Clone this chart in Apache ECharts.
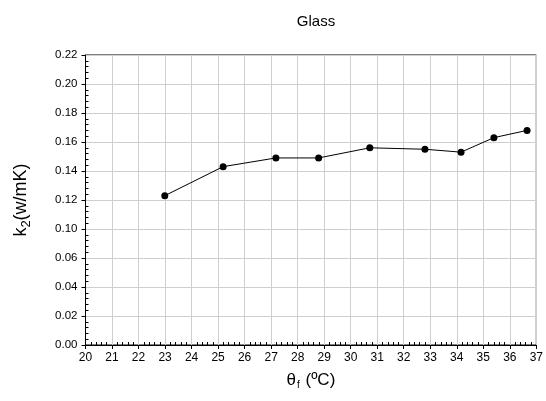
<!DOCTYPE html>
<html>
<head>
<meta charset="utf-8">
<script src="https://cdn.jsdelivr.net/npm/echarts@6/dist/echarts.min.js"></script>
<style>
  html, body { margin: 0; padding: 0; background: #fff; }
  #chart { width: 546px; height: 401px; }
</style>
</head>
<body>
<div id="chart"></div>
<script>
// Film temperature (ºC) and thermal conductivity k2 (W/mK) for glass
const theta = [22.99, 25.19, 27.18, 28.79, 30.72, 32.80, 34.16, 35.40, 36.65];
const k2 = [0.123, 0.143, 0.149, 0.149, 0.156, 0.155, 0.153, 0.163, 0.168];

// Tick labels of the k2 axis (the 0.06 -> 0.10 step is drawn as a single interval)
const kTicks = ['0.00', '0.02', '0.04', '0.06', '0.10', '0.12', '0.14', '0.16', '0.18', '0.20', '0.22'];
const thetaMin = 20, thetaMax = 37;

// Position of a k2 value on the axis, which collapses the span 0.06..0.10 into one step
function kToAxis(v) {
  if (v >= 0.10) return v - 0.02;
  if (v > 0.06) return 0.06 + (v - 0.06) / 2;
  return v;
}

const FONT = 'Liberation Sans, Arial, sans-serif';
const chart = echarts.init(document.getElementById('chart'), null, { renderer: 'canvas' });

const gridBox = { left: 85.5, right: 9.5, top: 55, bottom: 56 };

chart.setOption({
  animation: false,
  backgroundColor: '#fff',
  title: {
    text: 'Glass',
    left: 311, top: 9, textAlign: 'center',
    textStyle: { fontFamily: FONT, fontSize: 15, fontWeight: 'normal', color: '#000' }
  },
  grid: Object.assign({ show: true, borderColor: '#000', borderWidth: 1, backgroundColor: 'transparent' }, gridBox),
  xAxis: [{
    type: 'value', min: thetaMin, max: thetaMax, interval: 1,
    name: '{a|θ}{s|f}{a| (ºC)}', nameLocation: 'middle', nameGap: 25,
    nameTextStyle: {
      fontFamily: FONT, color: '#000',
      rich: {
        a: { fontFamily: FONT, fontSize: 17, color: '#000' },
        s: { fontFamily: FONT, fontSize: 10, color: '#000', padding: [10, 1, 0, 1] }
      }
    },
    axisLine: { show: true, onZero: false, lineStyle: { color: '#000', width: 1 } },
    axisTick: { show: true, inside: false, length: 4, lineStyle: { color: '#000' } },
    axisLabel: { fontFamily: FONT, fontSize: 12, color: '#000', margin: 7 },
    splitLine: { show: true, lineStyle: { color: '#cfcfcf', width: 1 } }
  }, {
    // minor tick marks pointing into the plot
    type: 'value', min: thetaMin, max: thetaMax, interval: 1, position: 'bottom',
    axisLine: { show: false }, axisLabel: { show: false }, splitLine: { show: false },
    axisTick: { show: false, inside: true },
    minorTick: { show: true, splitNumber: 5, length: 3, lineStyle: { color: '#000' } }
  }],
  yAxis: [{
    type: 'value', min: 0, max: 0.20, interval: 0.02,
    name: '{a|k}{s|2}{a|(w/mK)}', nameLocation: 'middle', nameGap: 53, nameRotate: 90,
    nameTextStyle: {
      fontFamily: FONT, color: '#000',
      rich: {
        a: { fontFamily: FONT, fontSize: 18, color: '#000' },
        s: { fontFamily: FONT, fontSize: 13, color: '#000', padding: [10, 0, 0, 0] }
      }
    },
    axisLine: { show: true, onZero: false, lineStyle: { color: '#000', width: 1 } },
    axisTick: { show: true, inside: false, length: 4, lineStyle: { color: '#000' } },
    axisLabel: {
      fontFamily: FONT, fontSize: 11.5, color: '#000', margin: 8,
      formatter: function (val) { return kTicks[Math.round(val / 0.02)]; }
    },
    splitLine: { show: true, lineStyle: { color: '#cfcfcf', width: 1 } }
  }, {
    type: 'value', min: 0, max: 0.20, interval: 0.02, position: 'left',
    axisLine: { show: false }, axisLabel: { show: false }, splitLine: { show: false },
    axisTick: { show: false, inside: true },
    minorTick: { show: true, splitNumber: 5, length: 3, lineStyle: { color: '#000' } }
  }],
  series: [{
    type: 'line',
    xAxisIndex: 0, yAxisIndex: 0,
    data: theta.map((t, i) => [t, kToAxis(k2[i])]),
    symbol: 'circle', symbolSize: 7,
    lineStyle: { color: '#000', width: 1 },
    itemStyle: { color: '#000' },
    z: 5
  }]
});
</script>
</body>
</html>
